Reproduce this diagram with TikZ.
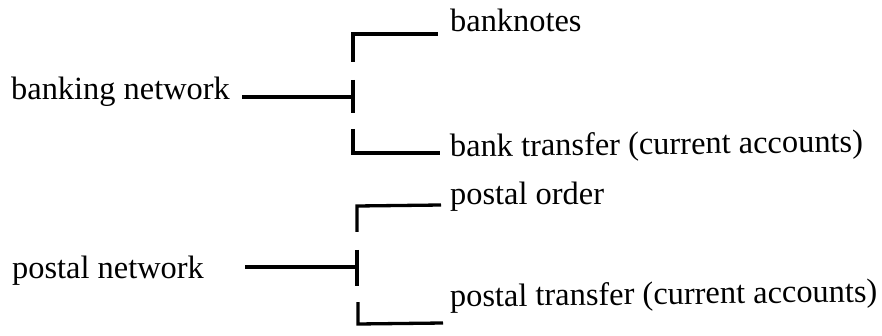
\documentclass[tikz,border=0pt]{standalone}
\usepackage{fontspec}
\setmainfont{Liberation Serif}
\begin{document}
\begin{tikzpicture}[x=1pt,y=-1pt,
  lbl/.style={anchor=base west,inner sep=0pt,font=\fontsize{32.4}{38}\selectfont},
  bar/.style={line width=3.3pt,line join=miter}]
\useasboundingbox (0,0) rectangle (882,336);
% banking group
\node[lbl] (bnet) at (11,100) {banking network};
\node[lbl] (bnotes) at (450,32) {banknotes};
\node[lbl,rotate=0.7] (btrans) at (450,157) {bank transfer (current accounts)};
\coordinate (b0) at (242,97);
\coordinate (bj) at (353,97);
\coordinate (bt1) at (353,80);
\coordinate (bt2) at (353,113);
\coordinate (bu1) at (353,62);
\coordinate (bu2) at (353,34);
\coordinate (bu3) at (438,34);
\coordinate (bl1) at (353,129);
\coordinate (bl2) at (353,153);
\coordinate (bl3) at (440,153);
\draw[bar] (b0) -- (bj);
\draw[bar] (bt1) -- (bt2);
\draw[bar] (bu1) -- (bu2) -- (bu3);
\draw[bar] (bl1) -- (bl2) -- (bl3);
% postal group
\node[lbl] (pnet) at (12,278) {postal network};
\node[lbl] (porder) at (450,205) {postal order};
\node[lbl,rotate=0.7] (ptrans) at (450,307) {postal transfer (current accounts)};
\coordinate (p0) at (245,267);
\coordinate (pj) at (357,267);
\coordinate (pt1) at (357,250);
\coordinate (pt2) at (357,286);
\coordinate (pu1) at (357,232);
\coordinate (pu2) at (357,206);
\coordinate (pu3) at (441,205);
\coordinate (pl1) at (358,302);
\coordinate (pl2) at (358,324);
\coordinate (pl3) at (443,323);
\draw[bar] (p0) -- (pj);
\draw[bar] (pt1) -- (pt2);
\draw[bar] (pu1) -- (pu2) -- (pu3);
\draw[bar] (pl1) -- (pl2) -- (pl3);
\end{tikzpicture}
\end{document}
